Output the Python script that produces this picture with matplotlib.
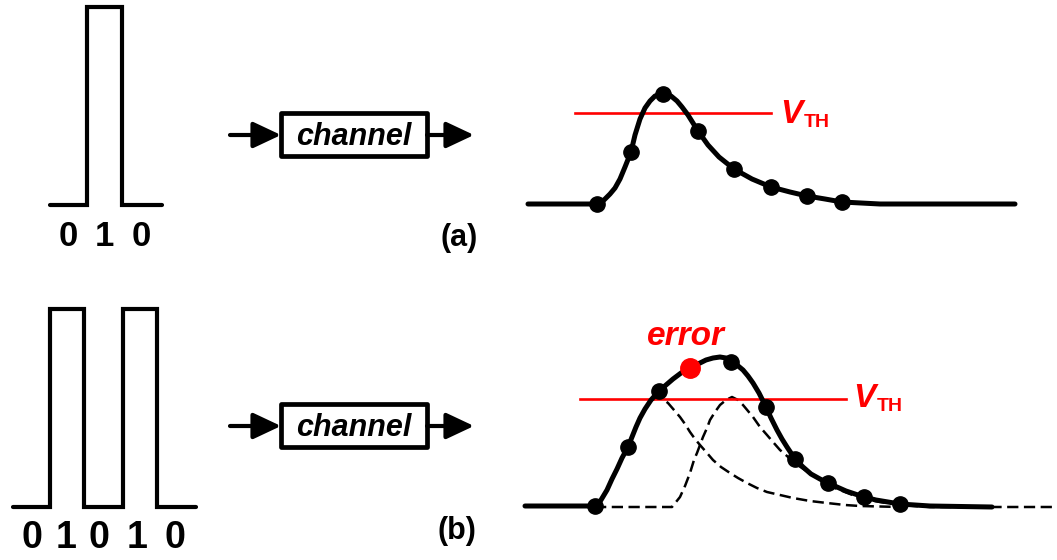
import matplotlib
matplotlib.use("Agg")
import matplotlib.pyplot as plt
from matplotlib.patches import Rectangle

plt.rcParams['font.family'] = ['Liberation Sans', 'DejaVu Sans']

# ---------------- data (pixel-space diagram coordinates) ----------------
# input bit patterns
bits_a = ['0', '1', '0']
bits_a_x = [68, 104, 141]
pulse_a_x = [50, 87, 87, 122, 122, 162]
pulse_a_y = [205, 205, 7, 7, 205, 205]

bits_b = ['0', '1', '0', '1', '0']
bits_b_x = [32, 66, 99, 137, 175]
pulse_b_x = [13, 50, 50, 84, 84, 123, 123, 157, 157, 196]
pulse_b_y = [507, 507, 309, 309, 507, 507, 309, 309, 507, 507]

# received pulse response (a)
resp_a_x = [528, 597, 604, 610, 615, 620, 625, 631, 635, 640, 645, 650, 655, 663,
            671, 677, 682, 688, 693, 698, 708, 719, 734, 752, 771, 790, 807, 825,
            842, 880, 1015]
resp_a_y = [204, 204, 200, 194, 188, 179, 167, 152, 135, 119, 108, 101, 96, 94,
            96, 101, 107, 115, 123, 131, 145, 157, 169, 179, 187, 192, 196, 199,
            202, 204, 204]
samp_a_x = [597, 631, 663, 698, 734, 771, 807, 842]
samp_a_y = [204, 152, 94, 131, 169, 187, 196, 202]

# received response (b): sum and individual bit responses
resp_b_x = [525, 595, 601, 607, 612, 617, 622, 628, 632, 636, 640, 645, 651, 659,
            666, 673, 681, 690, 698, 706, 713, 720, 726, 731, 737, 743, 748, 753,
            759, 766, 771, 777, 782, 787, 795, 803, 811, 820, 828, 837, 846, 855,
            864, 876, 888, 900, 930, 992]
resp_b_y = [506, 506, 500, 490, 479, 469, 458, 447, 437, 427, 418, 409, 400, 391,
            385, 379, 373, 368, 364, 360, 358, 357, 358, 362, 365, 370, 376, 383,
            393, 407, 418, 430, 439, 447, 459, 467, 474, 479, 483, 487, 491, 494,
            497, 500, 502, 504, 506, 507]
samp_b_x = [595, 628, 659, 690, 731, 766, 795, 828, 864, 900]
samp_b_y = [506, 447, 391, 368, 362, 407, 459, 483, 497, 504]
err_idx = 3

bit1_x = [652, 660, 668, 674, 680, 685, 690, 695, 700, 707, 713, 721, 730, 738,
          747, 757, 767, 780, 793, 810, 827, 845, 860, 880, 900]
bit1_y = [400, 397, 403, 410, 417, 424, 432, 439, 445, 453, 460, 467, 473, 478,
          483, 488, 492, 495, 498, 501, 503, 505, 506, 506.5, 507]
bit2_x = [595, 672, 680, 685, 690, 694, 697, 700, 703, 707, 710, 715, 720, 726,
          732, 738, 743, 748, 753, 760, 767, 773, 780, 787, 793, 805, 815, 827,
          845, 860, 880, 900, 930, 990, 1057]
bit2_y = [507, 507, 497, 486, 473, 460, 453, 445, 437, 428, 420, 412, 405, 400,
          397, 400, 405, 411, 417, 427, 435, 442, 450, 456, 462, 470, 476, 485,
          492, 498, 502, 505, 507, 507, 507]

vth_a = 113
vth_a_span = [575, 771]
vth_b = 399
vth_b_span = [580, 846]

# ---------------- figure ----------------
fig = plt.figure(figsize=(10.57, 5.60), dpi=100)
ax = fig.add_axes([0, 0, 1, 1])
ax.set_xlim(0, 1057)
ax.set_ylim(560, 0)
ax.axis('off')

K = 'black'
R = '#ff0000'


def channel_block(yc, box_top, box_bot, text_base):
    style = '-|>,head_length=0.85,head_width=0.4'
    ax.annotate('', xy=(281, yc), xytext=(230, yc),
                arrowprops=dict(arrowstyle=style, lw=3.0, color=K,
                                mutation_scale=20, shrinkA=0, shrinkB=0,
                                capstyle='round'))
    ax.annotate('', xy=(474, yc), xytext=(427, yc),
                arrowprops=dict(arrowstyle=style, lw=3.0, color=K,
                                mutation_scale=20, shrinkA=0, shrinkB=0))
    ax.add_patch(Rectangle((281, box_top), 146, box_bot - box_top, fill=False,
                           lw=3.4, ec=K, joinstyle='round'))
    ax.text(354, text_base, 'channel', ha='center', va='baseline', fontsize=22,
            fontweight='bold', fontstyle='italic', color=K)


# ---- panel (a) ----
ax.plot(pulse_a_x, pulse_a_y, color=K, lw=3.0, solid_capstyle='round',
        solid_joinstyle='miter')
for b, x in zip(bits_a, bits_a_x):
    ax.text(x, 246, b, ha='center', va='baseline', fontsize=25, fontweight='bold')
channel_block(135, 113, 156, 145)
ax.text(459, 246, '(a)', ha='center', va='baseline', fontsize=22, fontweight='bold')

ax.plot(vth_a_span, [vth_a, vth_a], color=R, lw=1.9)
ax.plot(resp_a_x, resp_a_y, color=K, lw=3.6, solid_capstyle='round',
        solid_joinstyle='round')
ax.plot(samp_a_x, samp_a_y, 'o', color=K, ms=11)
ax.text(780, 123, 'V', ha='left', va='baseline', fontsize=24, fontweight='bold',
        fontstyle='italic', color=R)
ax.text(804, 127, 'TH', ha='left', va='baseline', fontsize=14, fontweight='bold',
        color=R)

# ---- panel (b) ----
ax.plot(pulse_b_x, pulse_b_y, color=K, lw=3.0, solid_capstyle='round',
        solid_joinstyle='miter')
for b, x in zip(bits_b, bits_b_x):
    ax.text(x, 548, b, ha='center', va='baseline', fontsize=27, fontweight='bold')
channel_block(426, 404, 447, 436)
ax.text(457, 539, '(b)', ha='center', va='baseline', fontsize=22, fontweight='bold')

ax.plot(bit1_x, bit1_y, color=K, lw=1.8, ls=(0, (4.5, 2.2)))
ax.plot(bit2_x, bit2_y, color=K, lw=1.8, ls=(0, (4.5, 2.2)))
ax.plot(vth_b_span, [vth_b, vth_b], color=R, lw=1.9)
ax.plot(resp_b_x, resp_b_y, color=K, lw=3.6, solid_capstyle='round',
        solid_joinstyle='round')
ok_x = [x for i, x in enumerate(samp_b_x) if i != err_idx]
ok_y = [y for i, y in enumerate(samp_b_y) if i != err_idx]
ax.plot(ok_x, ok_y, 'o', color=K, ms=11)
ax.plot([samp_b_x[err_idx]], [samp_b_y[err_idx]], 'o', color=R, ms=14)
ax.text(686, 345, 'error', ha='center', va='baseline', fontsize=24,
        fontweight='bold', fontstyle='italic', color=R)
ax.text(853, 407, 'V', ha='left', va='baseline', fontsize=24, fontweight='bold',
        fontstyle='italic', color=R)
ax.text(877, 411, 'TH', ha='left', va='baseline', fontsize=14, fontweight='bold',
        color=R)

fig.savefig('out.png', dpi=100, facecolor='white')
